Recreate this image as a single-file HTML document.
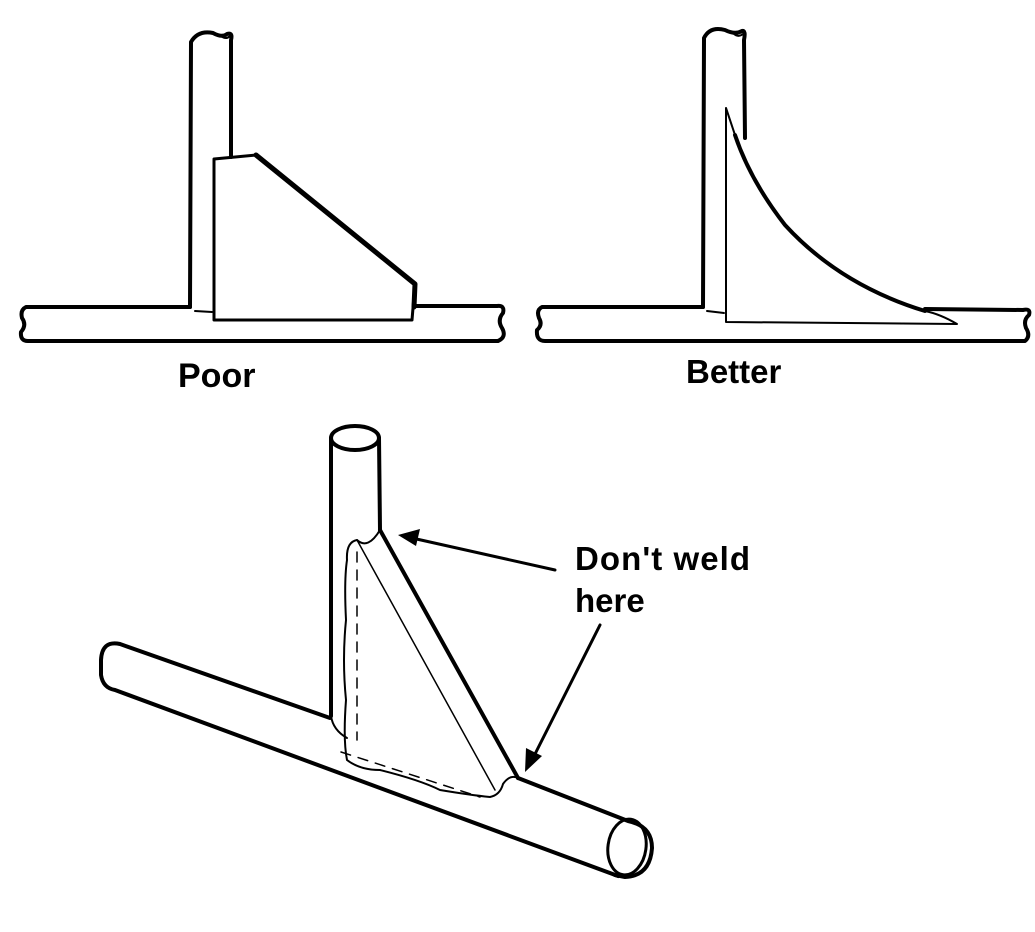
<!DOCTYPE html>
<html><head><style>
body{margin:0;background:#fff;}
svg{display:block;}
text{font-family:"Liberation Sans",Arial,sans-serif;font-weight:bold;fill:#000;}
</style></head><body>
<svg width="1035" height="932" viewBox="0 0 1035 932" xmlns="http://www.w3.org/2000/svg">
<g fill="none" stroke="#000" stroke-linejoin="round" stroke-linecap="round">
<!-- POOR -->
<path d="M190,307 L191,42 Q198,30 213,33 Q222,38 227,34 Q233,32 231,40 L231,157" stroke-width="4"/>
<path d="M221,36 Q226,40 230,36" stroke-width="2"/>
<path d="M190,307 L26,307 Q20,310 22,318 Q27,325 21,332 Q20,341 28,341 L498,341 Q507,337 502,328 Q497,320 503,313 Q505,305 497,306 L414,306" stroke-width="4"/>
<path d="M195,311 L212,312" stroke-width="2"/>
<path d="M214,159 L256,155 L415,284 L412,320 L214,320 Z" stroke-width="3"/>
<path d="M256,155 L415,284 L414,307" stroke-width="5"/>
<!-- BETTER -->
<path d="M703,307 L704,38 Q710,26 725,30 Q735,35 742,31 Q746,30 744,40 L745,138" stroke-width="4"/>
<path d="M733,33 Q738,38 743,34" stroke-width="2"/>
<path d="M703,307 L542,307 Q536,310 539,318 Q543,325 537,330 Q536,341 545,341 L1025,341 Q1031,336 1026,328 Q1023,320 1029,315 Q1031,308 1023,310 L925,309" stroke-width="4"/>
<path d="M707,311 L724,313" stroke-width="2"/>
<path d="M726,108 L726,322 L957,324 Q940,314 925,311 Q840,285 785,225 Q750,180 735,135 Z" stroke-width="2"/>
<path d="M735,135 Q750,180 785,225 Q840,285 925,311" stroke-width="4"/>
<!-- BOTTOM -->
<ellipse cx="355" cy="438" rx="24" ry="12" stroke-width="4"/>
<path d="M331,438 L331,716" stroke-width="4"/>
<path d="M379,438 L380,530" stroke-width="4"/>
<path d="M330,718 L120,644 Q102,640 101,660 L101,675 Q103,688 115,690 L618,876" stroke-width="4"/>
<ellipse cx="627" cy="847" rx="19" ry="28" transform="rotate(8 627 847)" stroke-width="3"/>
<path d="M518,778 L628,821 Q652,826 652,848 Q650,876 625,877 L615,875" stroke-width="4"/>
<!-- gusset -->
<path d="M380,530 L518,778" stroke-width="4"/>
<path d="M357,540 L495,790" stroke-width="1.5"/>
<path d="M357,540 Q368,550 380,530" stroke-width="2"/>
<path d="M357,540 Q346,542 347,560 Q344,580 346,620 Q342,660 346,700 Q343,740 347,760 Q360,770 380,770 Q420,780 440,790 Q470,795 490,797 Q500,795 503,784 Q510,774 518,778" stroke-width="2"/>
<path d="M331,716 Q333,730 347,738" stroke-width="2"/>
<path d="M357,552 L357,740 M341,752 L480,797" stroke-width="1.5" stroke-dasharray="10,8"/>
<!-- arrows -->
<path d="M555,570 L412,538" stroke-width="3"/>
<path d="M600,625 L532,760" stroke-width="3"/>
</g>
<polygon points="398,535 420,529 416,546" fill="#000"/>
<polygon points="525,772 526,748 542,756" fill="#000"/>
<text x="178" y="387" font-size="34">Poor</text>
<text x="686" y="383" font-size="33">Better</text>
<text x="575" y="570" font-size="33" textLength="175">Don't weld</text>
<text x="575" y="612" font-size="33">here</text>
</svg>
</body></html>
